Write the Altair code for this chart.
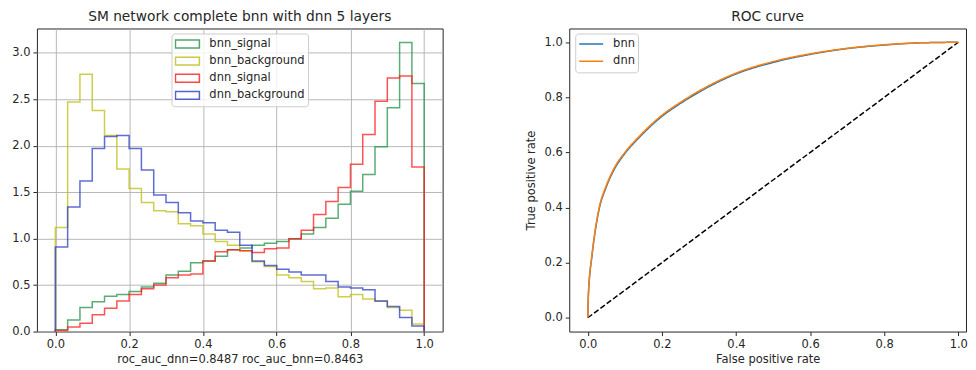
import altair as alt
import pandas as pd

# ---------------- data ----------------
n_bins = 30
bin_edges = [i / n_bins for i in range(n_bins + 1)]

series_names = ["bnn_signal", "bnn_background", "dnn_signal", "dnn_background"]
series_colors = ["#23924a", "#bdbd10", "#ff1a1a", "#2a3cc4"]

bnn_signal = [0.02, 0.125, 0.26, 0.32, 0.38, 0.40, 0.43, 0.48, 0.52, 0.61,
              0.65, 0.74, 0.76, 0.81, 0.88, 0.90, 0.93, 0.95, 0.97, 1.00,
              1.05, 1.12, 1.22, 1.37, 1.51, 1.69, 1.99, 2.41, 3.11, 2.67]
bnn_background = [1.12, 2.47, 2.77, 2.38, 2.11, 1.75, 1.54, 1.39, 1.30, 1.29,
                  1.16, 1.14, 1.05, 0.97, 0.93, 0.87, 0.75, 0.70, 0.61, 0.58,
                  0.54, 0.46, 0.47, 0.375, 0.40, 0.35, 0.325, 0.26, 0.23, 0.08]
dnn_signal = [0.01, 0.05, 0.09, 0.18, 0.25, 0.33, 0.40, 0.46, 0.50, 0.58,
              0.61, 0.62, 0.76, 0.86, 0.88, 0.87, 0.85, 0.89, 0.90, 1.00,
              1.09, 1.26, 1.40, 1.55, 1.80, 2.12, 2.48, 2.73, 2.75, 1.77]
dnn_background = [0.91, 1.34, 1.62, 1.97, 2.10, 2.11, 1.97, 1.74, 1.47, 1.39,
                  1.28, 1.19, 1.17, 1.09, 1.07, 0.93, 0.76, 0.71, 0.67, 0.64,
                  0.61, 0.61, 0.54, 0.48, 0.47, 0.45, 0.33, 0.27, 0.15, 0.06]

roc_fpr = [0.0, 0.001, 0.003, 0.006, 0.01, 0.018, 0.03, 0.05, 0.072, 0.1, 0.14,
           0.2, 0.25, 0.3, 0.4, 0.5, 0.6, 0.7, 0.8, 0.9, 1.0]
roc_tpr_bnn = [0.0, 0.055, 0.115, 0.165, 0.21, 0.295, 0.39, 0.475, 0.54, 0.596, 0.656,
               0.731, 0.778, 0.819, 0.885, 0.927, 0.956, 0.977, 0.99, 0.998, 1.0]
roc_tpr_dnn = [0.0, 0.06, 0.12, 0.17, 0.215, 0.30, 0.395, 0.48, 0.545, 0.60, 0.66,
               0.735, 0.782, 0.823, 0.888, 0.93, 0.958, 0.978, 0.991, 0.998, 1.0]
roc_names = ["bnn", "dnn"]
roc_colors = ["#1f77b4", "#ff7f0e"]

diag_name = "chance"
diag_x = [0.0, 1.0]
diag_y = [0.0, 1.0]

hist_title = "SM network complete bnn with dnn 5 layers"
hist_xlabel = "roc_auc_dnn=0.8487 roc_auc_bnn=0.8463"
hist_xticks = [0.0, 0.2, 0.4, 0.6, 0.8, 1.0]
hist_yticks = [0.0, 0.5, 1.0, 1.5, 2.0, 2.5, 3.0]
roc_ticks = [0.0, 0.2, 0.4, 0.6, 0.8, 1.0]

FONT = "DejaVu Sans"
TXT = "#262626"

# ---------------- tables ----------------
rows = []
for name, vals in zip(series_names, [bnn_signal, bnn_background, dnn_signal, dnn_background]):
    pts = [(bin_edges[0], 0.0)]
    pts += [(bin_edges[i], vals[i]) for i in range(n_bins)]
    pts += [(bin_edges[-1], vals[-1]), (bin_edges[-1], 0.0)]
    for k, (x, y) in enumerate(pts):
        rows.append({"series": name, "x": x, "y": y, "idx": k})
hist_df = pd.DataFrame(rows)

roc_rows = []
for k, (f, t) in enumerate(zip(diag_x, diag_y)):
    roc_rows.append({"model": diag_name, "fpr": f, "tpr": t, "idx": k})
for name, tpr in zip(roc_names, [roc_tpr_bnn, roc_tpr_dnn]):
    for k, (f, t) in enumerate(zip(roc_fpr, tpr)):
        roc_rows.append({"model": name, "fpr": f, "tpr": t, "idx": k})
roc_df = pd.DataFrame(roc_rows)

# ---------------- left: histograms ----------------
hist = alt.Chart(hist_df).mark_line(
    interpolate="step-after", strokeWidth=1.5, opacity=0.75
).encode(
    x=alt.X("x:Q",
            scale=alt.Scale(domain=[-0.05, 1.05], nice=False, zero=False),
            axis=alt.Axis(values=hist_xticks, format=".1f", title=hist_xlabel,
                          grid=True, titlePadding=4)),
    y=alt.Y("y:Q",
            scale=alt.Scale(domain=[0, 3.262], nice=False, zero=False),
            axis=alt.Axis(values=hist_yticks, format=".1f", title=None,
                          grid=True, minExtent=28)),
    color=alt.Color("series:N",
                    scale=alt.Scale(domain=series_names, range=series_colors),
                    legend=alt.Legend(
                        title=None, orient="none", legendX=135, legendY=5,
                        symbolType="M-1,-0.33L1,-0.33L1,0.33L-1,0.33Z",
                        symbolSize=576, symbolStrokeWidth=1.5,
                        symbolFillColor="transparent", symbolOpacity=0.8,
                        clipHeight=15, rowPadding=2.2, labelOffset=9,
                        padding=3, fillColor="rgba(255,255,255,0.8)",
                        strokeColor="#cccccc", cornerRadius=3,
                        labelFont=FONT, labelFontSize=11.5, labelColor=TXT)),
    order=alt.Order("idx:Q"),
).properties(
    width=407, height=304,
    title=alt.TitleParams(hist_title),
    view=alt.ViewBackground(stroke=TXT, strokeWidth=1),
)

# ---------------- right: ROC (single unit chart) ----------------
roc = alt.Chart(roc_df).mark_line(
    interpolate="monotone", strokeWidth=1.5
).encode(
    x=alt.X("fpr:Q",
            scale=alt.Scale(domain=[-0.05, 1.0208], nice=False, zero=False),
            axis=alt.Axis(values=roc_ticks, format=".1f", title="False positive rate",
                          grid=False, titlePadding=4)),
    y=alt.Y("tpr:Q",
            scale=alt.Scale(domain=[-0.05, 1.05], nice=False, zero=False),
            axis=alt.Axis(values=roc_ticks, format=".1f", title="True positive rate",
                          grid=False, minExtent=26, titlePadding=7)),
    color=alt.Color("model:N",
                    scale=alt.Scale(domain=[diag_name] + roc_names,
                                    range=["#000000"] + roc_colors),
                    legend=alt.Legend(
                        values=roc_names,
                        title=None, orient="none", legendX=6, legendY=5,
                        symbolType="stroke", symbolSize=576, symbolStrokeWidth=1.5,
                        clipHeight=15, rowPadding=2.3, labelOffset=9,
                        padding=3, fillColor="rgba(255,255,255,0.8)",
                        strokeColor="#cccccc", cornerRadius=3,
                        labelFont=FONT, labelFontSize=11.5, labelColor=TXT)),
    strokeDash=alt.StrokeDash("model:N",
                              scale=alt.Scale(domain=[diag_name] + roc_names,
                                              range=[[5.5, 2.4], [1, 0], [1, 0]]),
                              legend=None),
    order=alt.Order("idx:Q"),
).properties(
    width=398, height=304,
    title=alt.TitleParams("ROC curve"),
    view=alt.ViewBackground(stroke=TXT, strokeWidth=1),
)

chart = alt.hconcat(hist, roc, spacing=81).resolve_scale(
    color="independent", x="independent", y="independent"
).properties(
    padding={"left": 0, "top": 0, "right": 0, "bottom": 0}
).configure_axis(
    labelFont=FONT, labelFontSize=11.5, labelColor=TXT,
    titleFont=FONT, titleFontSize=11.5, titleFontWeight="normal", titleColor=TXT,
    tickSize=4, tickColor=TXT, labelPadding=3, domain=False,
    gridColor="#b0b0b0", gridWidth=0.9,
).configure_title(
    font=FONT, fontSize=13.8, fontWeight="normal", color=TXT, offset=5
)

chart.save("out.html", embed_options={"renderer": "svg", "actions": False})
